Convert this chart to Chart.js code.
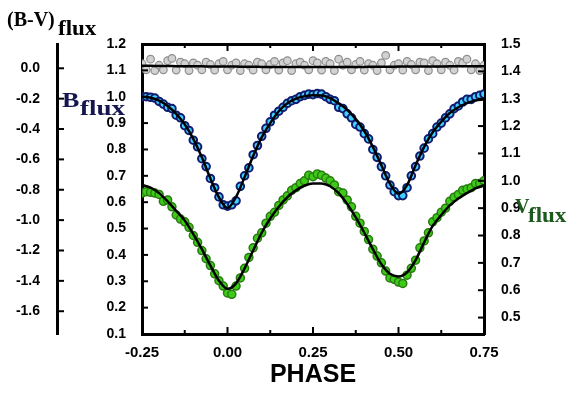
<!DOCTYPE html>
<html>
<head>
<meta charset="utf-8">
<script src="https://cdn.jsdelivr.net/npm/chart.js@4.4.0/dist/chart.umd.min.js"></script>
<style>
html, body { margin: 0; padding: 0; background: #fff; }
</style>
</head>
<body>
<canvas id="lightCurve" width="567" height="393"></canvas>
<script>
// ---- observed points (phase step 0.0125) ----
var PHASE_OBS = [
    -0.25, -0.2375, -0.225, -0.2125, -0.2, -0.1875, -0.175, -0.1625, -0.15, -0.1375,
    -0.125, -0.1125, -0.1, -0.0875, -0.075, -0.0625, -0.05, -0.0375, -0.025, -0.0125,
    0, 0.0125, 0.025, 0.0375, 0.05, 0.0625, 0.075, 0.0875, 0.1, 0.1125,
    0.125, 0.1375, 0.15, 0.1625, 0.175, 0.1875, 0.2, 0.2125, 0.225, 0.2375,
    0.25, 0.2625, 0.275, 0.2875, 0.3, 0.3125, 0.325, 0.3375, 0.35, 0.3625,
    0.375, 0.3875, 0.4, 0.4125, 0.425, 0.4375, 0.45, 0.4625, 0.475, 0.4875,
    0.5, 0.5125, 0.525, 0.5375, 0.55, 0.5625, 0.575, 0.5875, 0.6, 0.6125,
    0.625, 0.6375, 0.65, 0.6625, 0.675, 0.6875, 0.7, 0.7125, 0.725, 0.7375, 0.75
];
var B_OBS = [
    1.0, 1.0, 0.998, 0.995, 0.982, 0.972, 0.96, 0.955, 0.93, 0.92,
    0.89, 0.872, 0.835, 0.81, 0.765, 0.735, 0.69, 0.655, 0.62, 0.59,
    0.585, 0.59, 0.605, 0.66, 0.7, 0.73, 0.78, 0.815, 0.85, 0.88,
    0.905, 0.93, 0.945, 0.96, 0.975, 0.985, 0.99, 1.0, 1.005, 1.01,
    1.008, 1.012, 1.01, 1.0, 0.99, 0.985, 0.96, 0.955, 0.935, 0.92,
    0.895, 0.885, 0.86, 0.84, 0.8, 0.77, 0.735, 0.7, 0.665, 0.64,
    0.625, 0.625, 0.655, 0.7, 0.735, 0.775, 0.805, 0.84, 0.86, 0.885,
    0.9, 0.92, 0.935, 0.955, 0.965, 0.98, 0.99, 0.99, 1.0, 1.005, 1.01
];
var V_OBS = [
    0.955, 0.96, 0.958, 0.955, 0.95, 0.925, 0.93, 0.905, 0.875, 0.86,
    0.85, 0.83, 0.8, 0.775, 0.745, 0.715, 0.69, 0.66, 0.635, 0.615,
    0.59, 0.585, 0.615, 0.645, 0.68, 0.72, 0.755, 0.79, 0.81, 0.845,
    0.87, 0.885, 0.91, 0.93, 0.945, 0.965, 0.975, 0.99, 1.0, 1.02,
    1.015, 1.025, 1.02, 1.01, 1.0, 0.985, 0.96, 0.955, 0.93, 0.905,
    0.87, 0.845, 0.815, 0.785, 0.75, 0.725, 0.7, 0.67, 0.645, 0.64,
    0.63, 0.625, 0.655, 0.68, 0.71, 0.755, 0.78, 0.81, 0.85, 0.865,
    0.885, 0.9, 0.925, 0.94, 0.95, 0.965, 0.97, 0.975, 0.99, 0.99, 1.0
];
var BV_OBS = [
    0.03, -0.01, 0.06, -0.015, 0.02, -0.01, 0.05, 0.065, -0.012, 0.04,
    0.03, -0.015, 0.035, 0.02, -0.01, 0.04, 0.025, -0.012, 0.03, 0.045,
    -0.01, 0.02, 0.035, -0.015, 0.03, 0.02, -0.012, 0.04, 0.03, -0.01,
    0.025, 0.045, -0.012, 0.035, 0.05, -0.015, 0.03, 0.04, 0.02, -0.01,
    0.05, 0.035, -0.012, 0.045, 0.03, -0.015, 0.06, 0.02, 0.04, -0.01,
    0.025, 0.045, -0.012, 0.03, 0.02, -0.015, 0.035, 0.085, -0.01, 0.02,
    0.03, -0.012, 0.045, 0.025, -0.01, 0.04, 0.035, -0.015, 0.05, 0.03,
    -0.01, 0.04, 0.02, -0.012, 0.045, 0.035, 0.06, -0.01, 0.03, -0.015, 0.02
];

// ---- model curves (phase step 0.025) ----
var PHASE_FIT = [
    -0.25, -0.225, -0.2, -0.175, -0.15, -0.125, -0.1, -0.075, -0.05, -0.025,
    0, 0.025, 0.05, 0.075, 0.1, 0.125, 0.15, 0.175, 0.2, 0.225,
    0.25, 0.275, 0.3, 0.325, 0.35, 0.375, 0.4, 0.425, 0.45, 0.475,
    0.5, 0.525, 0.55, 0.575, 0.6, 0.625, 0.65, 0.675, 0.7, 0.725, 0.75
];
var B_FIT = [
    1.0, 0.996, 0.985, 0.965, 0.935, 0.895, 0.84, 0.77, 0.69, 0.618,
    0.578, 0.62, 0.695, 0.775, 0.846, 0.9, 0.945, 0.975, 0.993, 1.002,
    1.006, 1.005, 0.995, 0.975, 0.95, 0.915, 0.87, 0.81, 0.74, 0.67,
    0.632, 0.665, 0.74, 0.81, 0.865, 0.905, 0.938, 0.96, 0.976, 0.986, 0.99
];
var V_FIT = [
    0.985, 0.975, 0.955, 0.925, 0.89, 0.855, 0.805, 0.75, 0.69, 0.635,
    0.605, 0.625, 0.68, 0.745, 0.81, 0.862, 0.905, 0.94, 0.965, 0.982,
    0.99, 0.99, 0.98, 0.955, 0.915, 0.866, 0.81, 0.75, 0.695, 0.66,
    0.65, 0.665, 0.71, 0.775, 0.835, 0.875, 0.91, 0.935, 0.955, 0.972, 0.984
];
var BV_FIT = [
    0.016, 0.016, 0.015, 0.015, 0.014, 0.014, 0.013, 0.013, 0.012, 0.012,
    0.011, 0.011, 0.01, 0.01, 0.009, 0.009, 0.009, 0.008, 0.008, 0.008,
    0.008, 0.008, 0.008, 0.008, 0.009, 0.009, 0.009, 0.01, 0.01, 0.01,
    0.011, 0.011, 0.011, 0.012, 0.012, 0.012, 0.013, 0.013, 0.013, 0.014, 0.014
];

// ---- axis ticks ----
var X_TICKS = [-0.25, 0, 0.25, 0.5, 0.75];
var X_MINOR = [-0.125, 0.125, 0.375, 0.625];
var B_TICKS = [0.1, 0.2, 0.3, 0.4, 0.5, 0.6, 0.7, 0.8, 0.9, 1.0, 1.1, 1.2];
var V_TICKS = [0.5, 0.6, 0.7, 0.8, 0.9, 1.0, 1.1, 1.2, 1.3, 1.4, 1.5];
var BV_TICKS = [0.0, -0.2, -0.4, -0.6, -0.8, -1.0, -1.2, -1.4, -1.6];

function toPoints(xs, ys) {
    var out = [];
    for (var i = 0; i < xs.length; i++) out.push({ x: xs[i], y: ys[i] });
    return out;
}

function fixedTicks(list) {
    return function(scale) {
        scale.ticks = list.map(function(v) { return { value: v }; });
    };
}

var SANS = "'Liberation Sans', Arial, sans-serif";
var SERIF = "'Liberation Serif', 'Times New Roman', serif";

// tick marks drawn inward + serif axis names
var frameDecor = {
    id: 'frameDecor',
    afterDraw: function(chart) {
        var ctx = chart.ctx, a = chart.chartArea;
        var sx = chart.scales.x, sB = chart.scales.yB, sV = chart.scales.yV, sBV = chart.scales.yBV;
        function seg(x1, y1, x2, y2) { ctx.beginPath(); ctx.moveTo(x1, y1); ctx.lineTo(x2, y2); ctx.stroke(); }
        ctx.save();
        ctx.strokeStyle = '#000';
        ctx.lineWidth = 2;
        X_TICKS.forEach(function(v) {
            var p = sx.getPixelForValue(v);
            seg(p, a.bottom, p, a.bottom - 7);
            seg(p, a.top, p, a.top + 7);
        });
        X_MINOR.forEach(function(v) {
            var p = sx.getPixelForValue(v);
            seg(p, a.bottom, p, a.bottom - 4);
            seg(p, a.top, p, a.top + 4);
        });
        B_TICKS.forEach(function(v) {
            var p = sB.getPixelForValue(v);
            seg(a.left, p, a.left + 6, p);
        });
        V_TICKS.forEach(function(v) {
            var p = sV.getPixelForValue(v);
            seg(a.right, p, a.right - 6, p);
        });
        BV_TICKS.forEach(function(v) {
            var p = sBV.getPixelForValue(v);
            seg(sBV.right, p, sBV.right + 7, p);
        });

        function txt(s, x, y, size, color, stretch) {
            ctx.save();
            ctx.font = 'bold ' + size + 'px ' + SERIF;
            ctx.fillStyle = color;
            ctx.textAlign = 'left';
            ctx.textBaseline = 'alphabetic';
            ctx.translate(x, y);
            ctx.scale(stretch, 1);
            ctx.fillText(s, 0, 0);
            ctx.restore();
        }
        txt('(B-V)', 7, 26, 20, '#000', 1.0);
        txt('flux', 58, 35, 20, '#000', 1.15);
        txt('B', 62, 107, 20, '#15154f', 1.3);
        txt('flux', 80, 115, 20, '#15154f', 1.35);
        txt('V', 515, 213, 20, '#1d5a1d', 1.0);
        txt('flux', 528, 222, 20, '#1d5a1d', 1.15);
        ctx.restore();
    }
};

var ctx = document.getElementById('lightCurve');
new Chart(ctx, {
    type: 'scatter',
    data: {
        datasets: [
            { label: 'BV fit', type: 'line', data: toPoints(PHASE_FIT, BV_FIT), yAxisID: 'yBV', borderColor: '#000', borderWidth: 2.5, pointRadius: 0, fill: false, order: 0, cubicInterpolationMode: 'monotone' },
            { label: 'B fit', type: 'line', data: toPoints(PHASE_FIT, B_FIT), yAxisID: 'yB', borderColor: '#000', borderWidth: 2.5, pointRadius: 0, fill: false, order: 0, cubicInterpolationMode: 'monotone' },
            { label: 'V fit', type: 'line', data: toPoints(PHASE_FIT, V_FIT), yAxisID: 'yV', borderColor: '#000', borderWidth: 2.5, pointRadius: 0, fill: false, order: 0, cubicInterpolationMode: 'monotone' },
            { label: 'B-V', data: toPoints(PHASE_OBS, BV_OBS), yAxisID: 'yBV', backgroundColor: '#d2d2d2', borderColor: '#8e8e8e', borderWidth: 1.2, pointRadius: 3.8, order: 1 },
            { label: 'B', data: toPoints(PHASE_OBS, B_OBS), yAxisID: 'yB', backgroundColor: '#3fd2ff', borderColor: '#101a6e', borderWidth: 2, pointRadius: 3.8, order: 1 },
            { label: 'V', data: toPoints(PHASE_OBS, V_OBS), yAxisID: 'yV', backgroundColor: '#3ccc18', borderColor: '#2a7a12', borderWidth: 1.5, pointRadius: 4, order: 1 }
        ]
    },
    options: {
        responsive: false,
        animation: false,
        devicePixelRatio: 1,
        layout: { padding: { top: 44, left: 0, right: 0, bottom: 0 } },
        plugins: { legend: { display: false }, tooltip: { enabled: false } },
        scales: {
            x: {
                type: 'linear', position: 'bottom', min: -0.25, max: 0.75,
                afterBuildTicks: fixedTicks(X_TICKS),
                afterFit: function(s) { s.height = 59; },
                grid: { display: false },
                border: { display: true, color: '#000', width: 3 },
                ticks: { color: '#000', padding: 2, maxRotation: 0, font: { family: SANS, size: 15, weight: 'bold' },
                    callback: function(v) { return Number(v).toFixed(2); } },
                title: { display: true, text: 'PHASE', color: '#000', padding: { top: 0, bottom: 3 },
                    font: { family: SANS, size: 25, weight: 'bold' } }
            },
            xTop: {
                type: 'linear', position: 'top', min: -0.25, max: 0.75,
                afterFit: function(s) { s.height = 0; },
                grid: { display: false },
                border: { display: true, color: '#000', width: 3 },
                ticks: { display: false }
            },
            yB: {
                type: 'linear', position: 'left', min: 0.1, max: 1.2, weight: 0,
                afterBuildTicks: fixedTicks(B_TICKS),
                afterFit: function(s) { s.width = 85; },
                grid: { display: false },
                border: { display: true, color: '#000', width: 3 },
                ticks: { color: '#000', padding: 8, font: { family: SANS, size: 14, weight: 'bold' },
                    callback: function(v) { return Number(v).toFixed(1); } }
            },
            yBV: {
                type: 'linear', position: 'left', min: -1.75, max: 0.16, weight: 10,
                afterBuildTicks: fixedTicks(BV_TICKS),
                afterFit: function(s) { s.width = 57; },
                grid: { display: false },
                border: { display: true, color: '#000', width: 3 },
                ticks: { color: '#000', padding: 9, font: { family: SANS, size: 14, weight: 'bold' },
                    callback: function(v) { return Number(v).toFixed(1); } }
            },
            yV: {
                type: 'linear', position: 'right', min: 0.44, max: 1.5,
                afterBuildTicks: fixedTicks(V_TICKS),
                afterFit: function(s) { s.width = 83; },
                grid: { display: false },
                border: { display: true, color: '#000', width: 3 },
                ticks: { color: '#000', padding: 9, font: { family: SANS, size: 14, weight: 'bold' },
                    callback: function(v) { return Number(v).toFixed(1); } }
            }
        }
    },
    plugins: [frameDecor]
});
</script>
</body>
</html>
